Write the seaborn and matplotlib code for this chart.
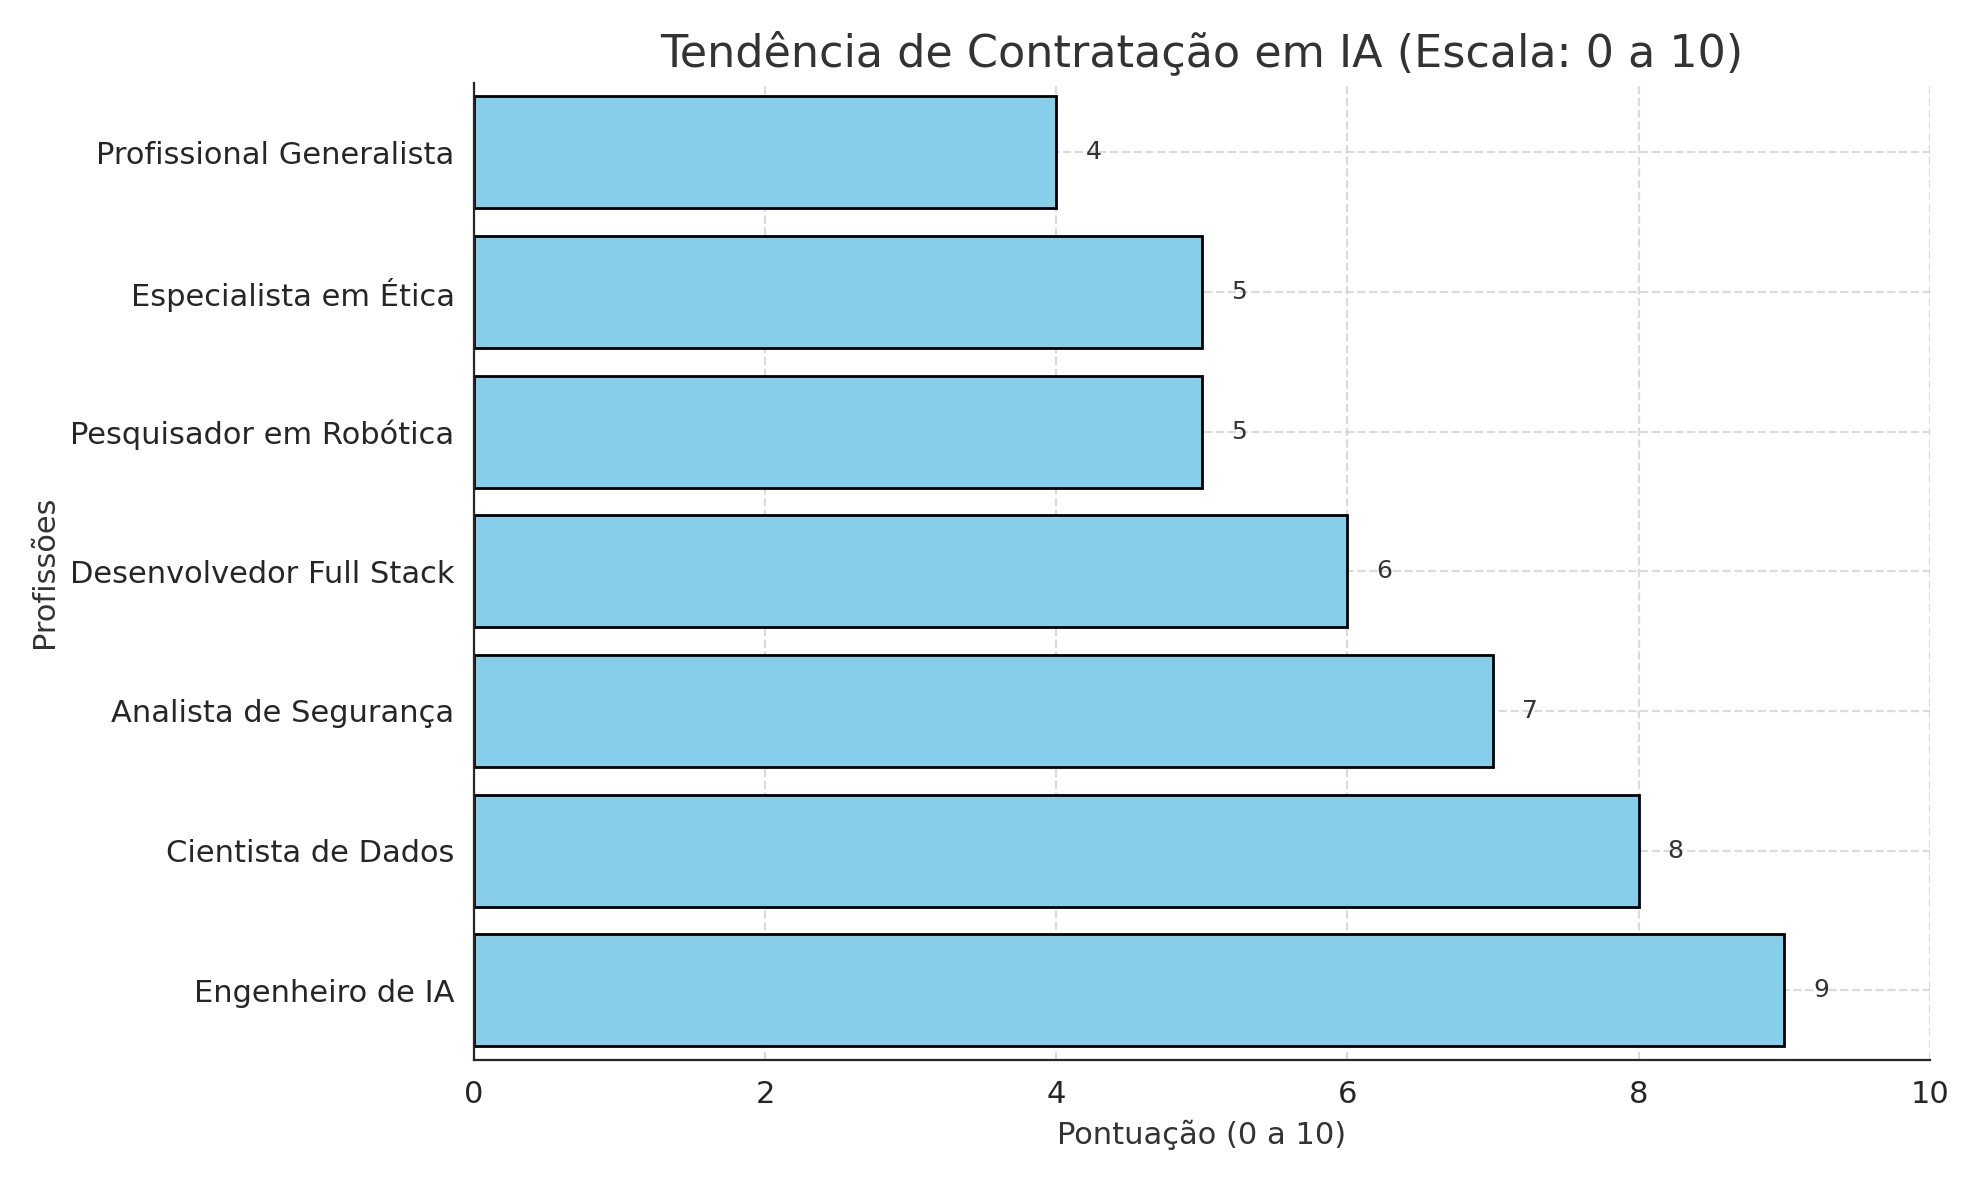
import pandas as pd
import matplotlib
matplotlib.use("Agg")
import matplotlib.pyplot as plt
import seaborn as sns

# profissões (de cima para baixo) e pontuações
profissoes = ["Profissional Generalista", "Especialista em Ética", "Pesquisador em Robótica",
              "Desenvolvedor Full Stack", "Analista de Segurança", "Cientista de Dados",
              "Engenheiro de IA"]
pontuacoes = [4, 5, 5, 6, 7, 8, 9]

df = pd.DataFrame({"Profissão": profissoes, "Pontuação": pontuacoes})

sns.set_style("white")
plt.rcParams['font.family'] = ['DejaVu Sans']

fig, ax = plt.subplots(figsize=(9.895, 5.9), dpi=200)
sns.barplot(data=df, y="Profissão", x="Pontuação", orient="h", color="skyblue",
            saturation=1, edgecolor="black", linewidth=1, width=0.8, ax=ax)

for i, v in enumerate(pontuacoes):
    ax.text(v + 0.2, i, str(v), va="center", fontsize=9, color="#333333")

ax.set_xlim(0, 10)
ax.grid(True, linestyle="--", alpha=0.7)
ax.set_axisbelow(True)
ax.spines["top"].set_visible(False)
ax.spines["right"].set_visible(False)
ax.set_title("Tendência de Contratação em IA (Escala: 0 a 10)", fontsize=16, color="#333333")
ax.set_xlabel("Pontuação (0 a 10)", fontsize=11, color="#333333")
ax.set_ylabel("Profissões", fontsize=11, color="#333333")
ax.tick_params(labelsize=11)

plt.tight_layout()
plt.savefig("out.png", dpi=200)
